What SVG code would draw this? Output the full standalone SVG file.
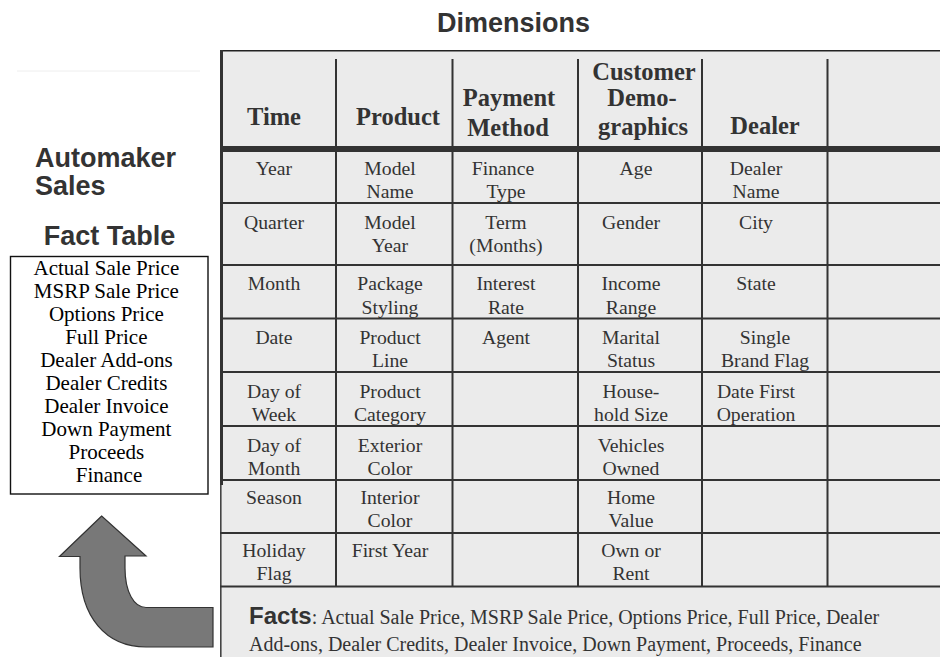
<svg xmlns="http://www.w3.org/2000/svg" width="940" height="657" viewBox="0 0 940 657">
<style>
.sans{font-family:"Liberation Sans",Arial,Helvetica,sans-serif;font-weight:bold;fill:#333;}
.hd{font-family:"Liberation Serif","Times New Roman",serif;font-weight:bold;font-size:24.5px;fill:#333;text-anchor:middle;}
.cell{font-family:"Liberation Serif","Times New Roman",serif;font-size:19.7px;fill:#333;text-anchor:middle;}
.fact{font-family:"Liberation Serif","Times New Roman",serif;font-size:21px;fill:#000;text-anchor:middle;}
.facts{font-family:"Liberation Serif","Times New Roman",serif;font-size:20px;fill:#333;}
.grid{stroke:#333;stroke-width:2;fill:none;}
</style>
<rect width="940" height="657" fill="#fff"/>
<text class="sans" x="513.5" y="31.5" font-size="27" text-anchor="middle">Dimensions</text>
<line x1="17" y1="71" x2="200" y2="71" stroke="#eee" stroke-width="1"/>

<g id="fact-table">
<text class="sans" x="35" y="166.5" font-size="27">Automaker</text>
<text class="sans" x="35" y="195" font-size="27">Sales</text>
<text class="sans" x="109.5" y="245" font-size="27" text-anchor="middle">Fact Table</text>
<rect x="10.5" y="256.5" width="197.5" height="237.5" fill="#fff" stroke="#111" stroke-width="1.4"/>
<text class="fact">
<tspan x="109" y="275">Actual Sale Price</tspan>
<tspan x="109" y="298">MSRP Sale Price</tspan>
<tspan x="109" y="321">Options Price</tspan>
<tspan x="109" y="344">Full Price</tspan>
<tspan x="109" y="367">Dealer Add-ons</tspan>
<tspan x="109" y="390">Dealer Credits</tspan>
<tspan x="109" y="413">Dealer Invoice</tspan>
<tspan x="109" y="436">Down Payment</tspan>
<tspan x="109" y="459">Proceeds</tspan>
<tspan x="109" y="482">Finance</tspan>
</text>
</g>

<g id="dimensions-table">
<rect x="220" y="50" width="720" height="607" fill="#ebebeb"/>
<line x1="220" y1="50.7" x2="940" y2="50.7" stroke="#222" stroke-width="1.5"/>
<line x1="221.5" y1="50" x2="221.5" y2="485" stroke="#333" stroke-width="3"/>
<line x1="220.8" y1="485" x2="220.8" y2="657" stroke="#444" stroke-width="1.6"/>
<rect x="220" y="146" width="720" height="6" fill="#333"/>
<g class="grid">
<line x1="336" y1="59" x2="336" y2="586"/>
<line x1="452.5" y1="59" x2="452.5" y2="586"/>
<line x1="578" y1="59" x2="578" y2="586"/>
<line x1="702" y1="59" x2="702" y2="586"/>
<line x1="827.5" y1="59" x2="827.5" y2="586"/>
<line x1="220" y1="203" x2="940" y2="203"/>
<line x1="220" y1="265" x2="940" y2="265"/>
<line x1="220" y1="318.5" x2="940" y2="318.5"/>
<line x1="220" y1="372" x2="940" y2="372"/>
<line x1="220" y1="426" x2="940" y2="426"/>
<line x1="220" y1="480" x2="940" y2="480"/>
<line x1="220" y1="533" x2="940" y2="533"/>
<line x1="220" y1="586.5" x2="940" y2="586.5"/>
</g>
<g id="headers">
<text class="hd" x="274" y="125">Time</text>
<text class="hd" x="398" y="125">Product</text>
<text class="hd" x="509" y="106">Payment</text>
<text class="hd" x="508" y="136">Method</text>
<text class="hd" x="644" y="80">Customer</text>
<text class="hd" x="642" y="106">Demo-</text>
<text class="hd" x="643" y="135">graphics</text>
<text class="hd" x="765" y="134">Dealer</text>
</g>
<g id="col-time" class="cell">
<text class="cell" x="274" y="175">Year</text>
<text class="cell" x="274" y="228.5">Quarter</text>
<text class="cell" x="274" y="290">Month</text>
<text class="cell" x="274" y="343.5">Date</text>
<text class="cell" x="274" y="397.5">Day of<tspan x="274" y="421">Week</tspan></text>
<text class="cell" x="274" y="451.5">Day of<tspan x="274" y="475">Month</tspan></text>
<text class="cell" x="274" y="503.5">Season</text>
<text class="cell" x="274" y="557">Holiday<tspan x="274" y="580">Flag</tspan></text>
</g>
<g id="col-product">
<text class="cell" x="390" y="175">Model<tspan x="390" y="198">Name</tspan></text>
<text class="cell" x="390" y="228.5">Model<tspan x="390" y="252">Year</tspan></text>
<text class="cell" x="390" y="290">Package<tspan x="390" y="313.5">Styling</tspan></text>
<text class="cell" x="390" y="343.5">Product<tspan x="390" y="367">Line</tspan></text>
<text class="cell" x="390" y="397.5">Product<tspan x="390" y="421">Category</tspan></text>
<text class="cell" x="390" y="451.5">Exterior<tspan x="390" y="475">Color</tspan></text>
<text class="cell" x="390" y="503.5">Interior<tspan x="390" y="527">Color</tspan></text>
<text class="cell" x="390" y="557">First Year</text>
</g>
<g id="col-payment">
<text class="cell" x="503" y="175">Finance<tspan x="506" y="198">Type</tspan></text>
<text class="cell" x="506" y="228.5">Term<tspan x="506" y="252">(Months)</tspan></text>
<text class="cell" x="506" y="290">Interest<tspan x="506" y="313.5">Rate</tspan></text>
<text class="cell" x="506" y="343.5">Agent</text>
</g>
<g id="col-customer">
<text class="cell" x="636" y="175">Age</text>
<text class="cell" x="631" y="228.5">Gender</text>
<text class="cell" x="631" y="290">Income<tspan x="631" y="313.5">Range</tspan></text>
<text class="cell" x="631" y="343.5">Marital<tspan x="631" y="367">Status</tspan></text>
<text class="cell" x="631" y="397.5">House-<tspan x="631" y="421">hold Size</tspan></text>
<text class="cell" x="631" y="451.5">Vehicles<tspan x="631" y="475">Owned</tspan></text>
<text class="cell" x="631" y="503.5">Home<tspan x="631" y="527">Value</tspan></text>
<text class="cell" x="631" y="557">Own or<tspan x="631" y="580">Rent</tspan></text>
</g>
<g id="col-dealer">
<text class="cell" x="756" y="175">Dealer<tspan x="756" y="198">Name</tspan></text>
<text class="cell" x="756" y="228.5">City</text>
<text class="cell" x="756" y="290">State</text>
<text class="cell" x="765" y="343.5">Single<tspan x="765" y="367">Brand Flag</tspan></text>
<text class="cell" x="756" y="397.5">Date First<tspan x="756" y="421">Operation</tspan></text>
</g>
<g id="facts-row">
<text class="facts" x="249" y="623.5"><tspan class="sans" font-size="24">Facts</tspan>: Actual Sale Price, MSRP Sale Price, Options Price, Full Price, Dealer</text>
<text class="facts" x="249" y="651">Add-ons, Dealer Credits, Dealer Invoice, Down Payment, Proceeds, Finance</text>
</g>
</g>

<g id="connectors">
<path d="M101.7,516 L59.5,556.5 L80,556.5 L80,568 C80,617 106,647 146,647 L213,647 L213,607.5 L146,607.5 C134,607.5 125,592 125,568 L125,556 L146,556 Z" fill="#787878" stroke="#333" stroke-width="1.2" stroke-linejoin="miter"/>
</g>
</svg>
